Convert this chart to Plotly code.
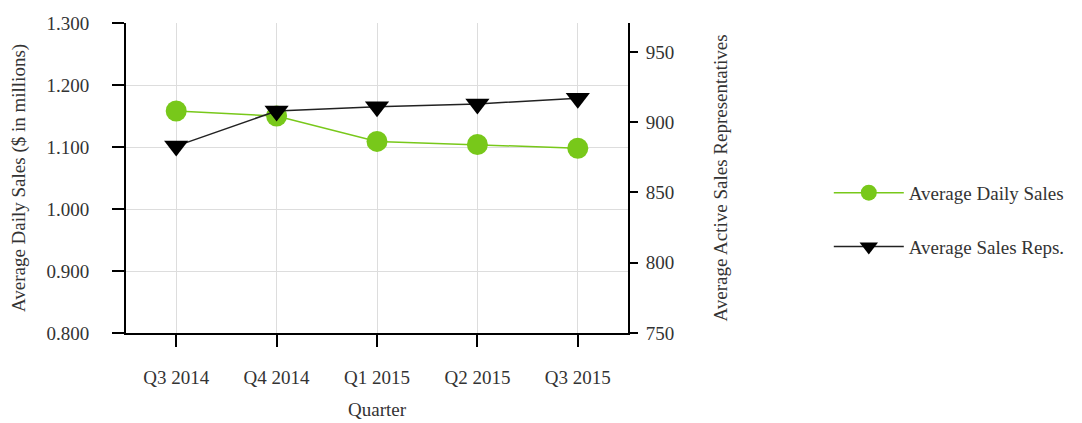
import plotly.graph_objects as go

quarters = ["Q3 2014", "Q4 2014", "Q1 2015", "Q2 2015", "Q3 2015"]
avg_daily_sales = [1.158, 1.150, 1.109, 1.104, 1.098]
avg_sales_reps = [883, 908, 911, 913, 917]

left_ticks = [0.8, 0.9, 1.0, 1.1, 1.2, 1.3]
left_tick_text = ["0.800", "0.900", "1.000", "1.100", "1.200", "1.300"]
right_ticks = [750, 800, 850, 900, 950]

FONT = "Liberation Serif"
TXT = "#333333"
GREEN = "#78c81a"
FS = 19

fig = go.Figure()
fig.add_trace(go.Scatter(
    x=quarters, y=avg_daily_sales, name="Average Daily Sales",
    mode="lines+markers", legendgroup="a",
    line=dict(color=GREEN, width=1.5),
    marker=dict(symbol="circle", size=21, color=GREEN),
    yaxis="y",
))
fig.add_trace(go.Scatter(
    x=quarters, y=avg_sales_reps, name="Average Sales Reps.",
    mode="lines+markers", legendgroup="b",
    line=dict(color="#222222", width=1.5),
    marker=dict(symbol="triangle-down", size=21, color="#000000"),
    yaxis="y2",
))

fig.update_layout(
    width=1074, height=415,
    margin=dict(l=118, r=446, t=15, b=90),
    paper_bgcolor="white", plot_bgcolor="white",
    font=dict(family=FONT, size=FS, color=TXT),
    showlegend=True,
    legend=dict(x=1.40, y=0.365, xanchor="left", yanchor="middle",
                font=dict(family=FONT, size=FS, color=TXT),
                tracegroupgap=26, itemwidth=70, bgcolor="rgba(0,0,0,0)"),
    xaxis=dict(
        type="category", range=[-0.5, 4.5], automargin=False,
        showgrid=True, gridcolor="#dddddd", gridwidth=1,
        showline=True, linecolor="#000000", linewidth=2,
        ticks="outside", ticklen=12, tickcolor="#000000", tickwidth=1.5,
        ticklabelstandoff=14,
        title=dict(text="Quarter", font=dict(family=FONT, size=FS, color=TXT), standoff=16),
        zeroline=False,
    ),
    yaxis=dict(
        range=[0.8, 1.3], tickvals=left_ticks, ticktext=left_tick_text, automargin=False,
        showgrid=True, gridcolor="#dddddd", gridwidth=1,
        showline=True, linecolor="#000000", linewidth=2,
        ticks="outside", ticklen=12, tickcolor="#000000", tickwidth=1.5,
        ticklabelstandoff=19,
        title=dict(text="Average Daily Sales ($ in millions)",
                   font=dict(family=FONT, size=FS, color=TXT), standoff=16),
        zeroline=False,
    ),
    yaxis2=dict(
        overlaying="y", side="right", automargin=False,
        range=[750, 970.6], tickvals=right_ticks,
        showgrid=False,
        showline=True, linecolor="#000000", linewidth=2,
        ticks="outside", ticklen=8, tickcolor="#000000", tickwidth=1.5,
        ticklabelstandoff=4,
        title=dict(text="Average Active Sales Representatives",
                   font=dict(family=FONT, size=FS, color=TXT), standoff=40),
        zeroline=False,
    ),
)

fig.write_html("out.html")
